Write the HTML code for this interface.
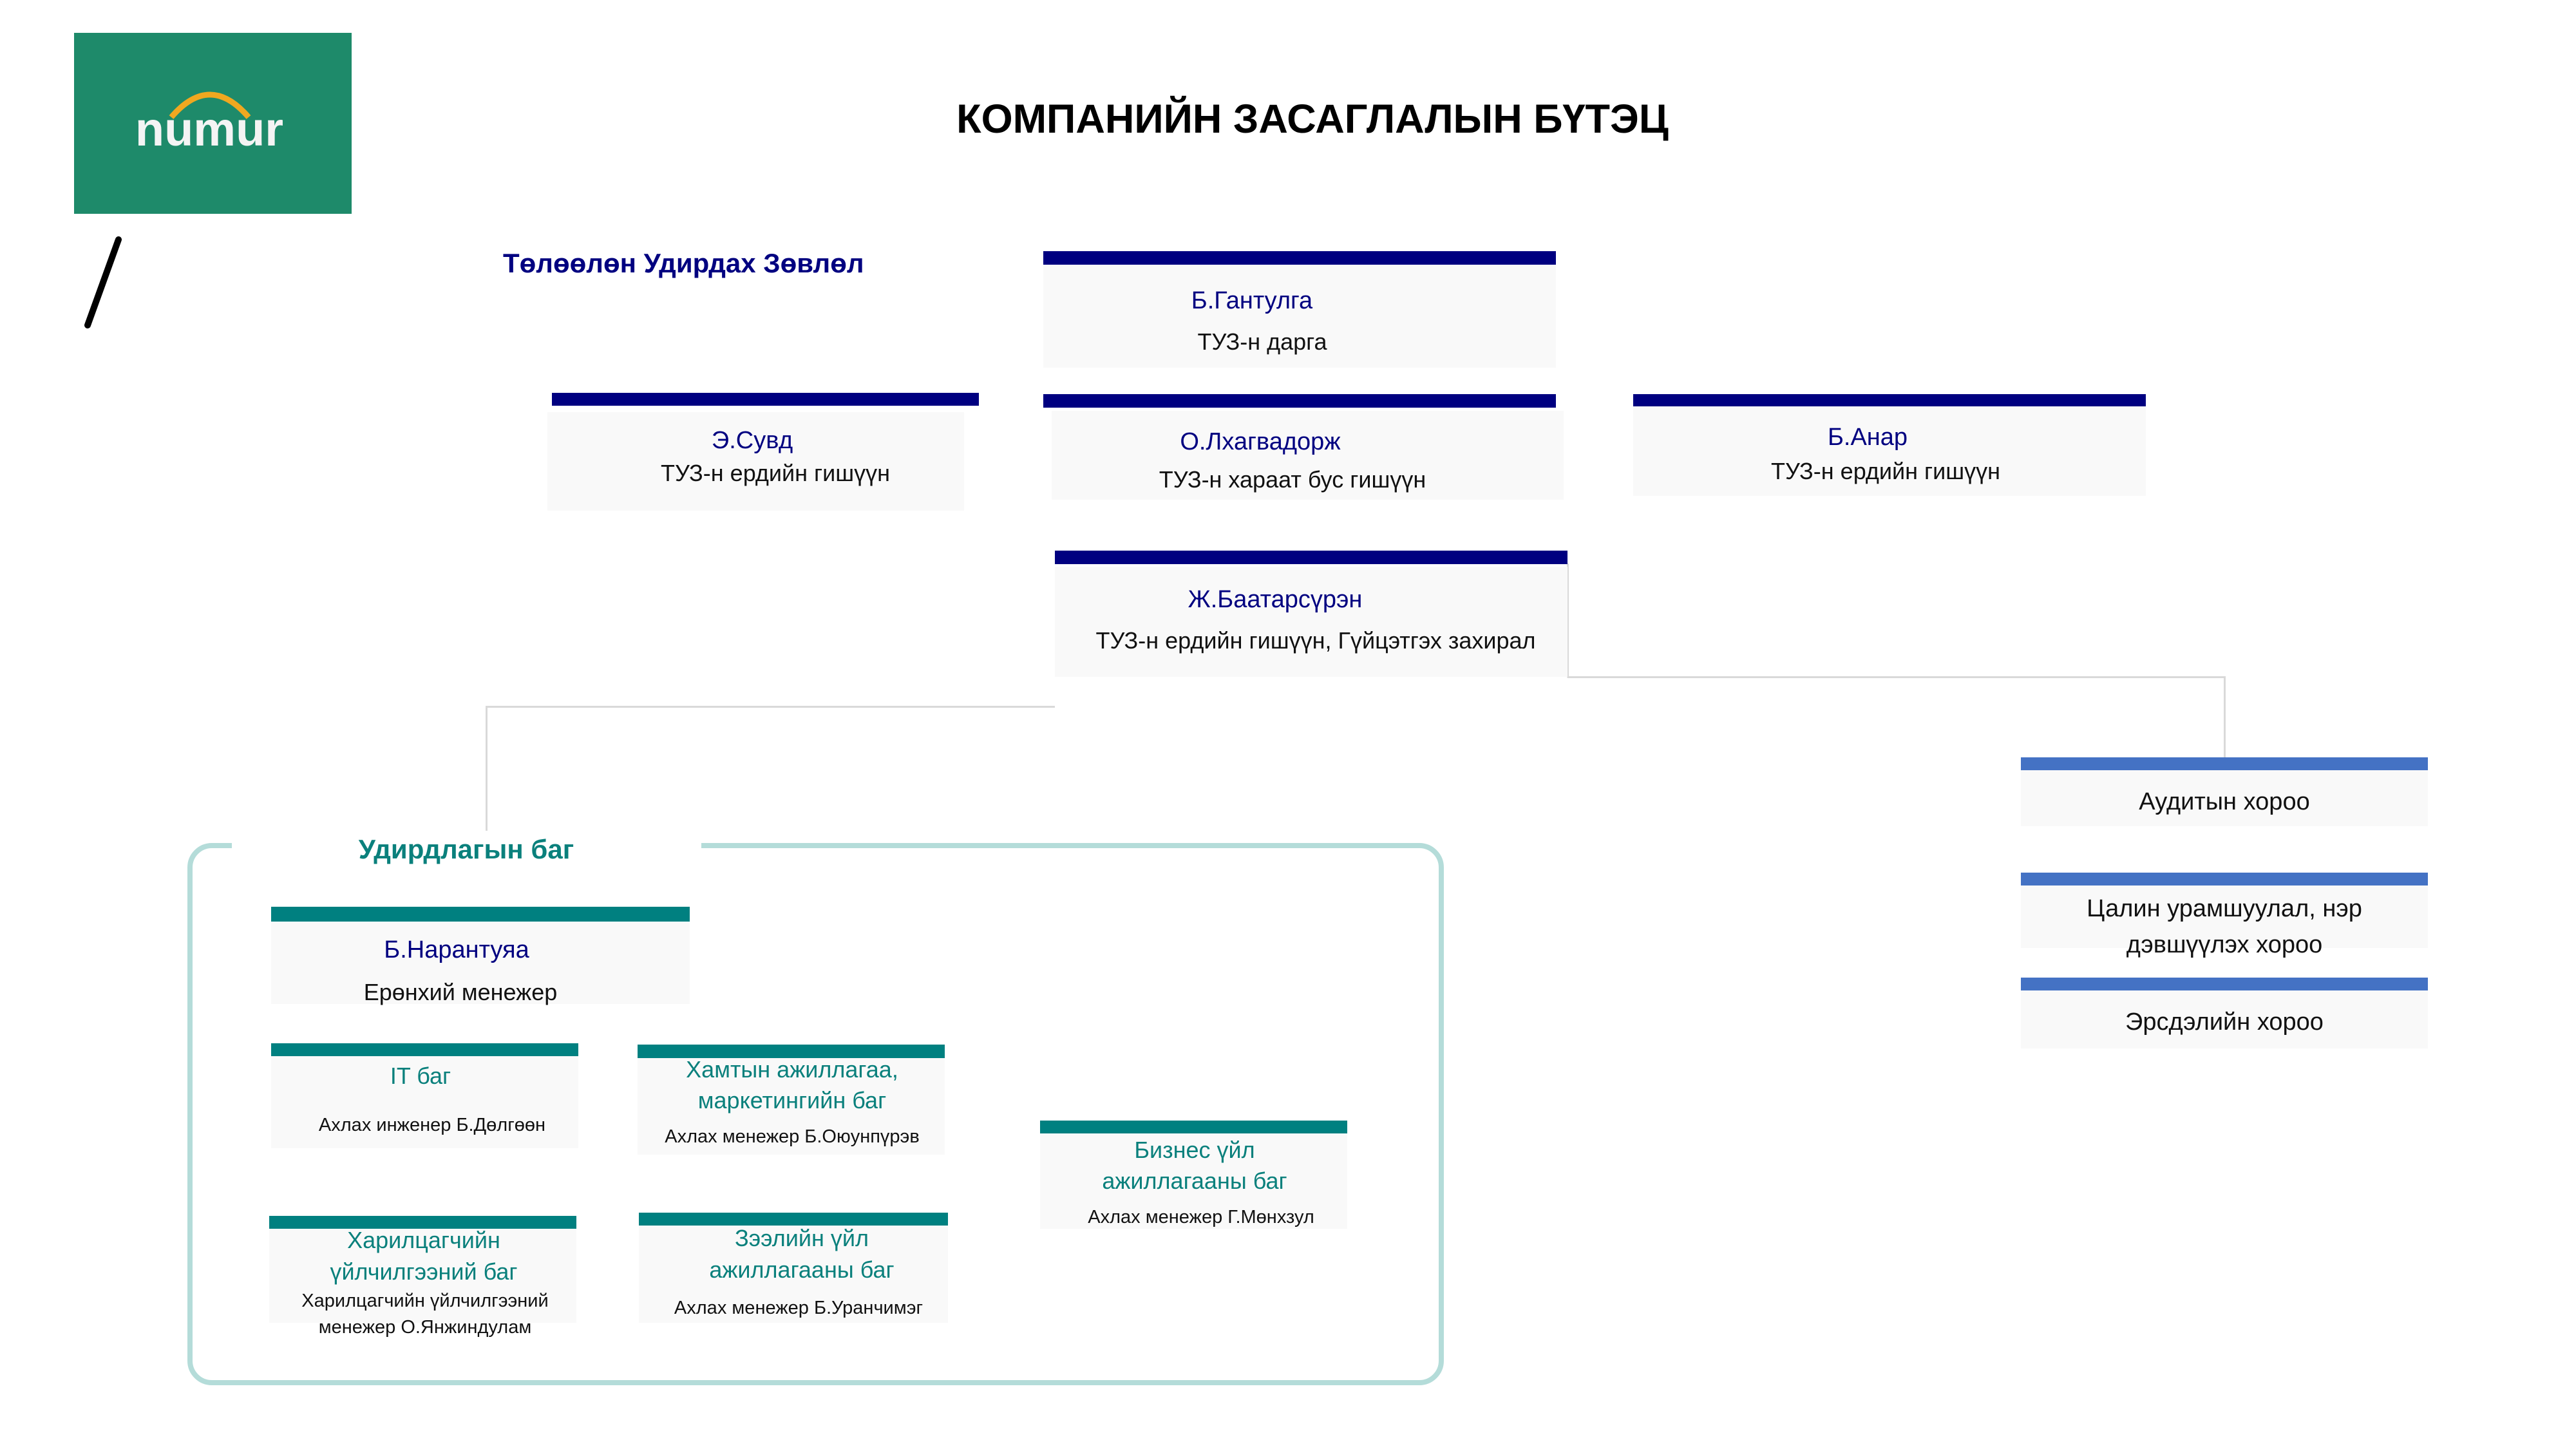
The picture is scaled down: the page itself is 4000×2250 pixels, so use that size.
<!DOCTYPE html>
<html><head><meta charset="utf-8"><style>
body{margin:0;width:4000px;height:2250px;background:#fff;position:relative;overflow:hidden;font-family:"Liberation Sans","DejaVu Sans",sans-serif}
div{position:absolute;box-sizing:border-box}
.t{width:1200px;text-align:center;line-height:50px;height:50px;white-space:nowrap}
.bg{background:#f9f9f9}
.nv{background:#000080}
.tl{background:#008080}
.bl{background:#4472c4}
.n{color:#000080;font-size:38px}
.s{color:#111;font-size:36px}
.g{color:#0a807c;font-size:36px}
.sm{color:#111;font-size:29px}
.ln{background:#d9d9d9}
</style></head><body>
<div style="left:115px;top:51px;width:431px;height:281px;background:#1e8a6a"></div>
<svg style="position:absolute;left:0;top:0" width="600" height="600">
<path d="M266 182 Q326 112 386 182" stroke="#f0a820" stroke-width="9" fill="none"/>
<text x="325" y="226" text-anchor="middle" font-family="Liberation Sans" font-weight="bold" font-size="74" fill="#f4f4f4">numur</text>
<line x1="184" y1="372" x2="136" y2="505" stroke="#000" stroke-width="10" stroke-linecap="round"/>
</svg>
<div class="t" style="left:1438px;top:150px;height:70px;line-height:70px;font-size:63px;font-weight:bold;color:#000">КОМПАНИЙН ЗАСАГЛАЛЫН БҮТЭЦ</div>
<div style="left:781px;top:385px;font-size:42px;font-weight:bold;color:#000080;white-space:nowrap">Төлөөлөн Удирдах Зөвлөл</div>

<!-- connectors -->
<div class="ln" style="left:755px;top:1096px;width:883px;height:3px"></div>
<div class="ln" style="left:754px;top:1096px;width:3px;height:194px"></div>
<div class="ln" style="left:2433px;top:875px;width:3px;height:177px"></div>
<div class="ln" style="left:2434px;top:1050px;width:1021px;height:3px"></div>
<div class="ln" style="left:3453px;top:1050px;width:3px;height:126px"></div>

<!-- board -->
<div class="bg" style="left:1620px;top:411px;width:796px;height:160px"></div>
<div class="nv" style="left:1620px;top:390px;width:796px;height:21px"></div>
<div class="t n" style="left:1344px;top:442px">Б.Гантулга</div>
<div class="t s" style="left:1360px;top:506px">ТУЗ-н дарга</div>

<div class="bg" style="left:850px;top:640px;width:647px;height:153px"></div>
<div class="nv" style="left:857px;top:610px;width:663px;height:20px"></div>
<div class="t n" style="left:568px;top:659px">Э.Сувд</div>
<div class="t s" style="left:604px;top:710px">ТУЗ-н ердийн гишүүн</div>

<div class="bg" style="left:1633px;top:638px;width:795px;height:138px"></div>
<div class="nv" style="left:1620px;top:612px;width:796px;height:21px"></div>
<div class="t n" style="left:1357px;top:661px">О.Лхагвадорж</div>
<div class="t s" style="left:1407px;top:720px">ТУЗ-н хараат бус гишүүн</div>

<div class="bg" style="left:2536px;top:630px;width:796px;height:140px"></div>
<div class="nv" style="left:2536px;top:612px;width:796px;height:19px"></div>
<div class="t n" style="left:2300px;top:654px">Б.Анар</div>
<div class="t s" style="left:2328px;top:707px">ТУЗ-н ердийн гишүүн</div>

<div class="bg" style="left:1638px;top:880px;width:796px;height:171px"></div>
<div class="nv" style="left:1638px;top:855px;width:796px;height:21px"></div>
<div class="t n" style="left:1380px;top:906px">Ж.Баатарсүрэн</div>
<div class="t s" style="left:1443px;top:970px">ТУЗ-н ердийн гишүүн, Гүйцэтгэх захирал</div>

<!-- committees -->
<div class="bg" style="left:3138px;top:1196px;width:632px;height:87px"></div>
<div class="bl" style="left:3138px;top:1176px;width:632px;height:20px"></div>
<div class="t s" style="left:2854px;top:1220px;font-size:38px">Аудитын хороо</div>
<div class="bg" style="left:3138px;top:1375px;width:632px;height:97px"></div>
<div class="bl" style="left:3138px;top:1355px;width:632px;height:20px"></div>
<div class="t s" style="left:2854px;top:1386px;font-size:38px">Цалин урамшуулал, нэр</div>
<div class="t s" style="left:2854px;top:1442px;font-size:38px">дэвшүүлэх хороо</div>
<div class="bg" style="left:3138px;top:1538px;width:632px;height:90px"></div>
<div class="bl" style="left:3138px;top:1518px;width:632px;height:20px"></div>
<div class="t s" style="left:2854px;top:1562px;font-size:38px">Эрсдэлийн хороо</div>

<!-- frame -->
<div style="left:291px;top:1309px;width:1951px;height:842px;border:8px solid #b4dcd9;border-radius:38px"></div>
<div style="left:360px;top:1300px;width:729px;height:24px;background:#fff"></div>
<div class="t" style="left:124px;top:1294px;font-size:42px;font-weight:bold;color:#0a807c">Удирдлагын баг</div>

<div class="bg" style="left:421px;top:1431px;width:650px;height:128px"></div>
<div class="tl" style="left:421px;top:1408px;width:650px;height:23px"></div>
<div class="t n" style="left:109px;top:1450px">Б.Нарантуяа</div>
<div class="t s" style="left:115px;top:1516px">Ерөнхий менежер</div>

<div class="bg" style="left:421px;top:1640px;width:477px;height:143px"></div>
<div class="tl" style="left:421px;top:1620px;width:477px;height:20px"></div>
<div class="t g" style="left:53px;top:1646px">IT баг</div>
<div class="t sm" style="left:71px;top:1722px">Ахлах инженер Б.Дөлгөөн</div>

<div class="bg" style="left:990px;top:1643px;width:477px;height:150px"></div>
<div class="tl" style="left:990px;top:1622px;width:477px;height:21px"></div>
<div class="t g" style="left:630px;top:1636px">Хамтын ажиллагаа,</div>
<div class="t g" style="left:630px;top:1684px">маркетингийн баг</div>
<div class="t sm" style="left:630px;top:1740px">Ахлах менежер Б.Оюунпүрэв</div>

<div class="bg" style="left:1615px;top:1760px;width:477px;height:148px"></div>
<div class="tl" style="left:1615px;top:1740px;width:477px;height:20px"></div>
<div class="t g" style="left:1255px;top:1761px">Бизнес үйл</div>
<div class="t g" style="left:1255px;top:1809px">ажиллагааны баг</div>
<div class="t sm" style="left:1265px;top:1865px">Ахлах менежер Г.Мөнхзул</div>

<div class="bg" style="left:418px;top:1908px;width:477px;height:146px"></div>
<div class="tl" style="left:418px;top:1888px;width:477px;height:20px"></div>
<div class="t g" style="left:58px;top:1901px">Харилцагчийн</div>
<div class="t g" style="left:58px;top:1950px">үйлчилгээний баг</div>
<div class="t sm" style="left:60px;top:1995px">Харилцагчийн үйлчилгээний</div>
<div class="t sm" style="left:60px;top:2036px">менежер О.Янжиндулам</div>

<div class="bg" style="left:992px;top:1903px;width:480px;height:151px"></div>
<div class="tl" style="left:992px;top:1883px;width:480px;height:20px"></div>
<div class="t g" style="left:645px;top:1898px">Зээлийн үйл</div>
<div class="t g" style="left:645px;top:1947px">ажиллагааны баг</div>
<div class="t sm" style="left:640px;top:2006px">Ахлах менежер Б.Уранчимэг</div>
</body></html>
